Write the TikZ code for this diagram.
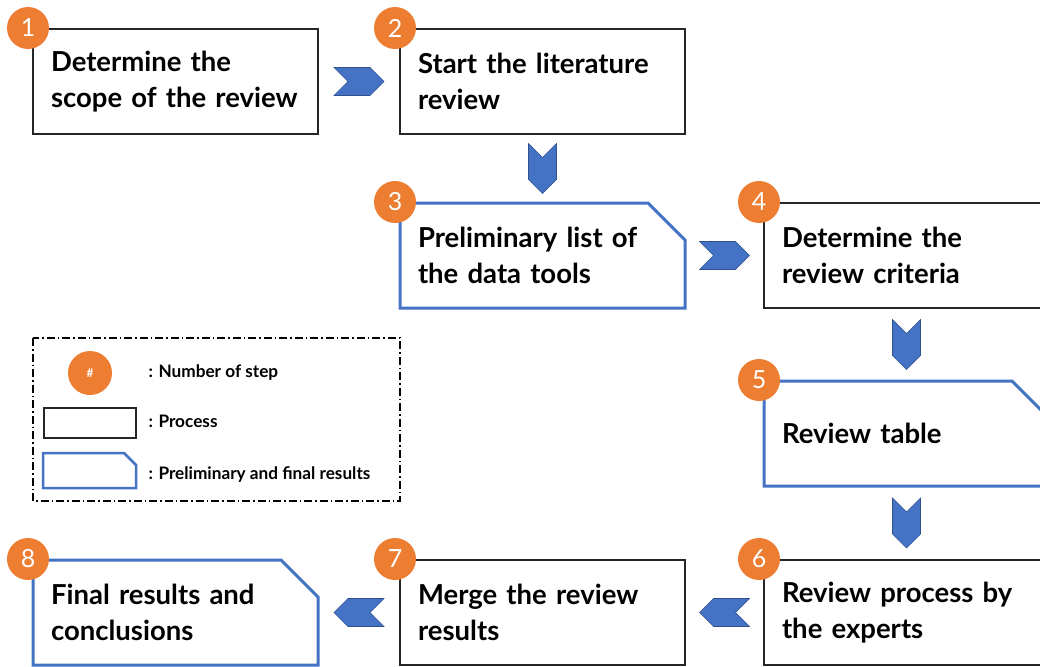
\documentclass[tikz,border=0pt]{standalone}
\usepackage{fontspec}
\setmainfont{Lato}
\usetikzlibrary{calc}
\definecolor{stepOrange}{HTML}{ED7D31}
\definecolor{flowBlue}{HTML}{4472C4}
\definecolor{flowBlueDark}{HTML}{2F528F}

\begin{document}
\begin{tikzpicture}
          [
            x=1pt, y=-1pt,
            process/.style={draw=black!85, line width=1.5pt, outer sep=0pt, anchor=north west,
              minimum height=105pt, text width=249pt, inner xsep=18pt, align=left,
              font=\fontsize{27.5}{36}\selectfont\bfseries},
            result/.style={process, draw=none},
            outline/.style={draw=flowBlue, line width=3pt, line join=miter},
            num/.style={circle, fill=stepOrange, text=white, minimum size=42pt, inner sep=0pt,
              font=\fontsize{25}{25}\selectfont},
            chevron/.pic={
              \filldraw [fill=flowBlue, draw=flowBlueDark, line width=0.6pt]
              (-25,-14) -- (11,-14) -- (25,0) -- (11,14) -- (-25,14) -- (-11,0) -- cycle;
            },
            keytext/.style={anchor=base west, font=\fontsize{17.2}{20}\selectfont\bfseries}
          ]
          \useasboundingbox (0,0) rectangle (1040,666);
          \clip (0,0) rectangle (1040,666);
          % process boxes
          \node [process] (b1) at (33,29) {Determine the\\scope of the review};
          \node [process] (b2) at (400,29) {Start the literature\\review};
          \node [process] (b4) at (764,203) {Determine the\\review criteria};
          \node [process] (b6) at (764,560) {Review process by\\the experts};
          \node [process] (b7) at (400,560) {Merge the review\\results};
          % result boxes
          \node [result] (b3) at (400,203) {Preliminary list of\\the data tools};
          \node [result] (b5) at (764,381) {Review table};
          \node [result] (b8) at (33,560) {Final results and\\conclusions};
          \foreach \b in {b3,b5,b8} {
              \draw [outline] (\b.north west) -- ($(\b.north east)+(-37,0)$)
              -- ($(\b.north east)+(0,37)$) -- (\b.south east) -- (\b.south west) -- cycle;
          }
          % step numbers
          \foreach \b/\n in {b1/1,b2/2,b3/3,b4/4,b5/5,b6/6,b7/7,b8/8} {
              \node [num] (n\n) at ([shift={(-5,-1)}]\b.north west) {\n};
          }
          % chevrons
          \pic at ($(b1.east)!0.5!(b2.west)$) {chevron};
          \pic [rotate=-90] at ($(b2.south)!0.5!(b3.north)$) {chevron};
          \pic at ($(b3.east)!0.5!(b4.west)$) {chevron};
          \pic [rotate=-90] at ($(b4.south)!0.5!(b5.north)$) {chevron};
          \pic [rotate=-90] at ($(b5.south)!0.5!(b6.north)$) {chevron};
          \pic [rotate=180] at ($(b6.west)!0.5!(b7.east)$) {chevron};
          \pic [rotate=180] at ($(b7.west)!0.5!(b8.east)$) {chevron};
          % legend
          \draw [line width=1.2pt, dash pattern=on 8pt off 3pt on 1.5pt off 3pt] (33,338) rectangle (400,501);
          \node [num, minimum size=44pt, font=\fontsize{12}{12}\selectfont\bfseries] (keynum) at (90,373) {\#};
          \node [draw=black!85, line width=1.2pt, minimum width=92pt, minimum height=30pt] (keyproc) at (90,423) {};
          \draw [outline, line width=2.5pt] (43,453) -- (124,453) -- (136,465) -- (136,488) -- (43,488) -- cycle;
          \node [keytext] (t1) at (145,377) {: Number of step};
          \node [keytext] (t2) at (145,427) {: Process};
          \node [keytext] (t3) at (145,479) {: Preliminary and final results};
        \end{tikzpicture}
\end{document}
